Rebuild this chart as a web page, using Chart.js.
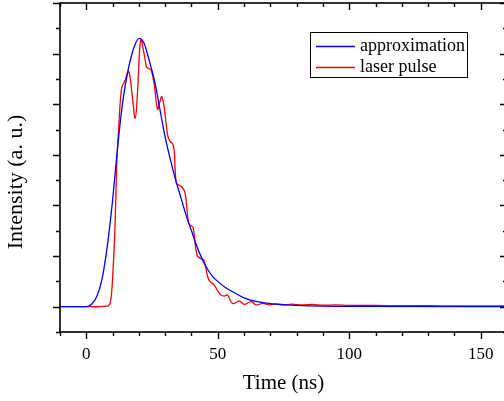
<!DOCTYPE html>
<html>
<head>
<meta charset="utf-8">
<script src="https://cdn.jsdelivr.net/npm/chart.js@4"></script>
<style>
  html, body { margin: 0; padding: 0; background: #fff; overflow: hidden; }
  #wrap { position: absolute; left: 0; top: 0; width: 510px; height: 401px; }
</style>
</head>
<body>
<div id="wrap"><canvas id="myChart"></canvas></div>
<script>
        // approximation (blue)
        var approxTime = [-10, 0, 2, 4, 6, 8, 10, 12, 14, 16, 18, 20, 22, 24, 26, 28, 30, 32, 34, 36, 38, 40, 42, 44, 46, 48, 50, 53, 56, 60, 65, 70, 80, 90, 100, 160];
        var approxValue = [0, 0, 0.01, 0.04, 0.11, 0.24, 0.42, 0.64, 0.82, 0.94, 1.02, 1.06, 1.04, 0.97, 0.89, 0.78, 0.67, 0.58, 0.50, 0.43, 0.36, 0.30, 0.24, 0.19, 0.15, 0.12, 0.10, 0.075, 0.057, 0.035, 0.02, 0.012, 0.005, 0.002, 0.001, 0];

        // measured laser pulse (red)
        var pulseTime = [-10, 0, 5, 8, 8.5, 9.1, 9.6, 10.1, 10.75, 11.2, 11.65, 12.3, 13, 13.6, 14.6, 16.1, 17.4, 18.6, 19.5, 20.2, 20.8, 21.6, 22.4, 23.0, 24.0, 24.7, 25.8, 27.1, 28.0, 28.7, 29.6, 30.9, 31.9, 32.8, 33.4, 34.2, 35.2, 36.3, 37.6, 38.9, 39.8, 40.6, 42.1, 43.5, 44.7, 46.6, 48.6, 50, 51.2, 52.5, 53.7, 55.6, 58.2, 60.1, 62.7, 64.6, 67.1, 69.6, 72, 75, 78, 82, 86, 90, 95, 100, 110, 120, 130, 140, 150, 160];
        var pulseValue = [0, 0, 0, 0.002, 0.004, 0.015, 0.05, 0.13, 0.27, 0.42, 0.58, 0.70, 0.82, 0.87, 0.89, 0.93, 0.84, 0.745, 0.85, 1.0, 1.054, 1.02, 0.975, 0.945, 0.94, 0.935, 0.88, 0.78, 0.81, 0.83, 0.79, 0.68, 0.652, 0.645, 0.62, 0.49, 0.48, 0.474, 0.448, 0.33, 0.32, 0.314, 0.204, 0.19, 0.185, 0.105, 0.086, 0.062, 0.046, 0.042, 0.046, 0.013, 0.022, 0.009, 0.02, 0.007, 0.013, 0.007, 0.011, 0.007, 0.01, 0.007, 0.009, 0.006, 0.007, 0.005, 0.005, 0.004, 0.004, 0.003, 0.003, 0.003];

        var xTicks = [0, 50, 100, 150];
        var seriesNames = ['approximation', 'laser pulse'];
        var seriesColors = ['#0000ff', '#ff0000'];
        var yTitle = 'Intensity (a. u.)';

        var serif = "'Liberation Serif', 'Times New Roman', serif";

        // frame with major/minor ticks on all four sides, legend and y title
        var framePlugin = {
            id: 'frame',
            afterDraw: function(chart) {
                var ctx = chart.ctx;
                var a = chart.chartArea;
                var xs = chart.scales.x, ys = chart.scales.y;
                ctx.save();
                ctx.strokeStyle = '#000';
                ctx.lineWidth = 1.6;
                ctx.strokeRect(a.left, a.top, a.right - a.left, a.bottom - a.top);
                ctx.beginPath();
                for (var v = -10; v <= 160; v += 10) {
                    var px = Math.round(xs.getPixelForValue(v)) + 0.5;
                    var len = (v % 50 === 0) ? 7 : 4;
                    ctx.moveTo(px, a.bottom); ctx.lineTo(px, a.bottom + len);
                    ctx.moveTo(px, a.top); ctx.lineTo(px, a.top + len);
                }
                for (var i = -1; i <= 12; i++) {
                    var py = Math.round(ys.getPixelForValue(i / 10)) + 0.5;
                    var l2 = (i % 2 === 0) ? 7 : 4;
                    ctx.moveTo(a.left, py); ctx.lineTo(a.left - l2, py);
                    ctx.moveTo(a.right, py); ctx.lineTo(a.right - l2, py);
                }
                ctx.lineWidth = 1.4;
                ctx.stroke();

                // legend box
                ctx.font = '18px ' + serif;
                ctx.textBaseline = 'middle';
                ctx.lineWidth = 1;
                ctx.strokeRect(310.5, 32.5, 157, 45);
                chart.data.datasets.forEach(function(ds, k) {
                    var yy = 46 + k * 21;
                    ctx.strokeStyle = ds.borderColor;
                    ctx.lineWidth = 1.3;
                    ctx.beginPath();
                    ctx.moveTo(316, yy + 0.5); ctx.lineTo(355, yy + 0.5);
                    ctx.stroke();
                    ctx.fillStyle = '#000';
                    ctx.fillText(ds.label, 360, yy);
                });

                // y axis title, sits a bit below the middle of the plot
                ctx.font = '22px ' + serif;
                ctx.textAlign = 'center';
                ctx.translate(16, 182);
                ctx.rotate(-Math.PI / 2);
                ctx.fillText(yTitle, 0, 0);
                ctx.restore();
            }
        };

        var ctx = document.getElementById('myChart').getContext('2d');
        var pulseChart = new Chart(ctx, {
            type: 'line',
            data: {
                datasets: [
                    {
                        label: seriesNames[0],
                        data: approxTime.map((t, i) => ({ x: t, y: approxValue[i] })),
                        borderColor: seriesColors[0],
                        borderWidth: 1.3,
                        pointRadius: 0,
                        cubicInterpolationMode: 'monotone',
                        fill: false
                    },
                    {
                        label: seriesNames[1],
                        data: pulseTime.map((t, i) => ({ x: t, y: pulseValue[i] })),
                        borderColor: seriesColors[1],
                        borderWidth: 1.3,
                        pointRadius: 0,
                        tension: 0.4,
                        fill: false
                    }
                ]
            },
            options: {
                responsive: true,
                maintainAspectRatio: false,
                animation: false,
                layout: { padding: { top: 3, right: 3, left: 0, bottom: 0 } },
                plugins: {
                    legend: { display: false },
                    tooltip: { enabled: false }
                },
                scales: {
                    x: {
                        type: 'linear',
                        min: -10,
                        max: 160,
                        afterFit: function(scale) { scale.height = 69; },
                        afterBuildTicks: function(scale) {
                            scale.ticks = xTicks.map(v => ({ value: v }));
                        },
                        grid: { display: false, drawTicks: false },
                        border: { display: false },
                        ticks: {
                            color: '#000',
                            padding: 12,
                            maxRotation: 0,
                            font: { family: serif, size: 17 }
                        },
                        title: {
                            display: true,
                            text: 'Time (ns)',
                            color: '#000',
                            padding: { top: 0, bottom: 5 },
                            font: { family: serif, size: 21 }
                        }
                    },
                    y: {
                        min: -0.1,
                        max: 1.2,
                        afterFit: function(scale) { scale.width = 60; },
                        grid: { display: false, drawTicks: false },
                        border: { display: false },
                        ticks: { display: false },
                        title: { display: false }
                    }
                }
            },
            plugins: [framePlugin]
        });
</script>
</body>
</html>
